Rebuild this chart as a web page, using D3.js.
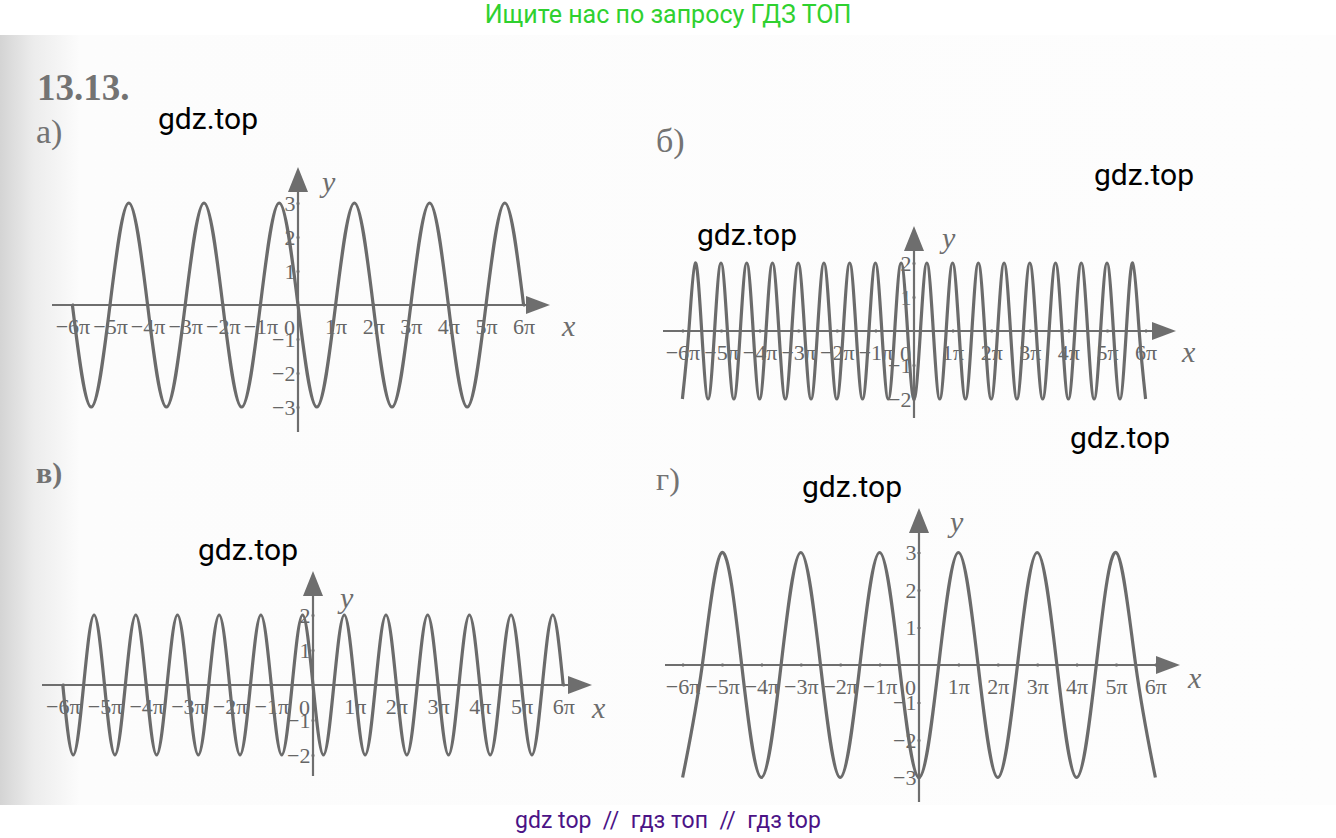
<!DOCTYPE html>
<html>
<head>
<meta charset="utf-8">
<script src="https://cdn.jsdelivr.net/npm/d3@7"></script>
<style>
  html, body { margin: 0; padding: 0; background: #fff; }
  svg { display: block; }
  .tick text { font-family: "Liberation Serif", "DejaVu Serif", serif; fill: #666; }
</style>
</head>
<body>
<svg id="chart" width="1336" height="838"></svg>
<script>
// x positions are in units of pi (panel b: in units of pi/6)
var xA = [-6,-5.5,-5,-4.5,-4,-3.5,-3,-2.5,-2,-1.5,-1,-0.5,0,0.5,1,1.5,2,2.5,3,3.5,4,4.5,5,5.5,6];
var yA = [0,-3,0,3,0,-3,0,3,0,-3,0,3,0,-3,0,3,0,-3,0,3,0,-3,0,3,0];

var xB = [-36,-35,-34,-33,-32,-31,-30,-29,-28,-27,-26,-25,-24,-23,-22,-21,-20,-19,-18,-17,-16,-15,-14,-13,
  -12,-11,-10,-9,-8,-7,-6,-5,-4,-3,-2,-1,0,1,2,3,4,5,6,7,8,9,10,11,12,13,14,15,16,17,18,19,20,21,22,23,
  24,25,26,27,28,29,30,31,32,33,34,35,36];
var yB = [-2,0,2,0,-2,0,2,0,-2,0,2,0,-2,0,2,0,-2,0,2,0,-2,0,2,0,-2,0,2,0,-2,0,2,0,-2,0,2,0,-2,
  0,2,0,-2,0,2,0,-2,0,2,0,-2,0,2,0,-2,0,2,0,-2,0,2,0,-2,0,2,0,-2,0,2,0,-2,0,2,0,-2];

var xV = [-6,-5.75,-5.5,-5.25,-5,-4.75,-4.5,-4.25,-4,-3.75,-3.5,-3.25,-3,-2.75,-2.5,-2.25,-2,-1.75,-1.5,-1.25,
  -1,-0.75,-0.5,-0.25,0,0.25,0.5,0.75,1,1.25,1.5,1.75,2,2.25,2.5,2.75,3,3.25,3.5,3.75,4,4.25,4.5,4.75,5,5.25,5.5,5.75,6];
var yV = [0,-2,0,2,0,-2,0,2,0,-2,0,2,0,-2,0,2,0,-2,0,2,0,-2,0,2,0,-2,0,2,0,-2,0,2,0,-2,0,2,0,-2,0,2,0,-2,0,2,0,-2,0,2,0];

var xG = [-6,-5.5,-5,-4.5,-4,-3.5,-3,-2.5,-2,-1.5,-1,-0.5,0,0.5,1,1.5,2,2.5,3,3.5,4,4.5,5,5.5,6];
var yG = [-3,0,3,0,-3,0,3,0,-3,0,3,0,-3,0,3,0,-3,0,3,0,-3,0,3,0,-3];

var xTicks = [-6,-5,-4,-3,-2,-1,1,2,3,4,5,6];
var xTickLabels = ['\u22126\u03c0','\u22125\u03c0','\u22124\u03c0','\u22123\u03c0','\u22122\u03c0','\u22121\u03c0',
  '1\u03c0','2\u03c0','3\u03c0','4\u03c0','5\u03c0','6\u03c0'];
var yTicks3 = [-3,-2,-1,1,2,3];
var yTicks2 = [-2,-1,1,2];

var ink = '#6e6e6e';
var svg = d3.select('#chart');

// scanned page
var defs = svg.append('defs');
var grad = defs.append('linearGradient').attr('id', 'edge');
grad.append('stop').attr('offset', '0%').attr('stop-color', '#d4d4d4');
grad.append('stop').attr('offset', '2.5%').attr('stop-color', '#ececec');
grad.append('stop').attr('offset', '6%').attr('stop-color', '#fcfcfc');
grad.append('stop').attr('offset', '100%').attr('stop-color', '#fdfdfd');
svg.append('rect').attr('x', 0).attr('y', 35).attr('width', 1336).attr('height', 770).attr('fill', 'url(#edge)');

var panels = [
  {xs: xA, ys: yA, div: 1, ox: 298, oy: 305, ppi: 37.6, uy: 34, yMax: 3, yTicks: yTicks3,
   xl: 52, xr: 550, yb: 432, yt: 167, xLab: [562, 336], yLab: [322, 192]},
  {xs: xB, ys: yB, div: 6, ox: 914, oy: 331, ppi: 38.6, uy: 34, yMax: 2, yTicks: yTicks2,
   xl: 663, xr: 1176, yb: 418, yt: 226, xLab: [1182, 362], yLab: [942, 248]},
  {xs: xV, ys: yV, div: 1, ox: 313, oy: 685, ppi: 41.7, uy: 35, yMax: 2, yTicks: yTicks2,
   xl: 42, xr: 592, yb: 776, yt: 571, xLab: [592, 718], yLab: [340, 608]},
  {xs: xG, ys: yG, div: 1, ox: 919, oy: 665, ppi: 39.4, uy: 37.5, yMax: 3, yTicks: yTicks3,
   xl: 665, xr: 1180, yb: 802, yt: 508, xLab: [1188, 688], yLab: [950, 532]}
];

panels.forEach(function(p) {
  var x = d3.scaleLinear().domain([-6, 6]).range([p.ox - 6 * p.ppi, p.ox + 6 * p.ppi]);
  var y = d3.scaleLinear().domain([-p.yMax, p.yMax]).range([p.oy + p.yMax * p.uy, p.oy - p.yMax * p.uy]);
  var g = svg.append('g');

  // x axis line + arrow
  g.append('line').attr('x1', p.xl).attr('x2', p.xr - 14).attr('y1', p.oy).attr('y2', p.oy)
    .attr('stroke', ink).attr('stroke-width', 2.2);
  g.append('path')
    .attr('d', 'M' + p.xr + ',' + p.oy + 'L' + (p.xr - 24) + ',' + (p.oy - 9) + 'L' + (p.xr - 24) + ',' + (p.oy + 9) + 'Z')
    .attr('fill', ink);
  // y axis line + arrow
  g.append('line').attr('x1', p.ox).attr('x2', p.ox).attr('y1', p.yb).attr('y2', p.yt + 14)
    .attr('stroke', ink).attr('stroke-width', 2.2);
  g.append('path')
    .attr('d', 'M' + p.ox + ',' + p.yt + 'L' + (p.ox - 10) + ',' + (p.yt + 25) + 'L' + (p.ox + 10) + ',' + (p.yt + 25) + 'Z')
    .attr('fill', ink);

  var xAxis = d3.axisBottom(x).tickValues(xTicks)
    .tickFormat(function(d, i) { return xTickLabels[i]; })
    .tickSizeInner(3).tickSizeOuter(0).tickPadding(12);
  var gx = g.append('g').attr('transform', 'translate(0,' + (p.oy - 1.5) + ')').call(xAxis);
  gx.select('.domain').remove();
  gx.selectAll('line').attr('stroke', ink).attr('stroke-width', 2);
  gx.selectAll('text').attr('font-size', 22);

  var yAxis = d3.axisLeft(y).tickValues(p.yTicks)
    .tickFormat(function(d) { return d < 0 ? '\u2212' + (-d) : d; })
    .tickSizeInner(3).tickSizeOuter(0).tickPadding(1);
  var gy = g.append('g').attr('transform', 'translate(' + (p.ox + 1.5) + ',0)').call(yAxis);
  gy.select('.domain').remove();
  gy.selectAll('line').attr('stroke', ink).attr('stroke-width', 2);
  gy.selectAll('text').attr('font-size', 22);

  g.append('text').attr('x', p.ox - 3).attr('y', p.oy + 30).attr('text-anchor', 'end')
    .attr('font-family', 'Liberation Serif, serif').attr('font-size', 22).attr('fill', '#666').text('0');

  g.append('text').attr('x', p.xLab[0]).attr('y', p.xLab[1])
    .attr('font-family', 'Liberation Serif, serif').attr('font-style', 'italic')
    .attr('font-size', 30).attr('fill', ink).text('x');
  g.append('text').attr('x', p.yLab[0]).attr('y', p.yLab[1])
    .attr('font-family', 'Liberation Serif, serif').attr('font-style', 'italic')
    .attr('font-size', 30).attr('fill', ink).text('y');

  var pts = p.xs.map(function(v, i) { return [v / p.div, p.ys[i]]; });
  var line = d3.line()
    .x(function(d) { return x(d[0]); })
    .y(function(d) { return y(d[1]); })
    .curve(d3.curveNatural);
  g.append('path').datum(pts).attr('d', line)
    .attr('fill', 'none').attr('stroke', '#6b6b6b').attr('stroke-width', 3.2);
});

// headings of the exercise
function serif(txt, x0, y0, size, bold) {
  svg.append('text').attr('x', x0).attr('y', y0)
    .attr('font-family', 'Liberation Serif, DejaVu Serif, serif')
    .attr('font-size', size).attr('font-weight', bold ? 'bold' : 'normal')
    .attr('fill', '#737373').text(txt);
}
serif('13.13.', 37, 100, 37, true);
serif('\u0430)', 36, 143, 34, false);
serif('\u0431)', 656, 152, 34, false);
serif('\u0432)', 36, 483, 30, true);
serif('\u0433)', 656, 490, 32, false);

// watermarks
var marks = [[158, 129], [1094, 185], [697, 245], [1070, 448], [802, 497], [198, 560]];
marks.forEach(function(m) {
  svg.append('text').attr('x', m[0]).attr('y', m[1])
    .attr('font-family', 'Roboto, sans-serif').attr('font-size', 30).attr('fill', '#000').text('gdz.top');
});
svg.append('text').attr('x', 668).attr('y', 23).attr('text-anchor', 'middle')
  .attr('font-family', 'Roboto, sans-serif').attr('font-size', 25).attr('fill', '#2fd12f')
  .text('\u0418\u0449\u0438\u0442\u0435 \u043d\u0430\u0441 \u043f\u043e \u0437\u0430\u043f\u0440\u043e\u0441\u0443 \u0413\u0414\u0417 \u0422\u041e\u041f');
svg.append('text').attr('x', 668).attr('y', 828).attr('text-anchor', 'middle')
  .attr('font-family', 'Roboto, sans-serif').attr('font-size', 23).attr('fill', '#4b1386')
  .attr('xml:space', 'preserve')
  .text('gdz top  //  \u0433\u0434\u0437 \u0442\u043e\u043f  //  \u0433\u0434\u0437 top');
</script>
</body>
</html>
